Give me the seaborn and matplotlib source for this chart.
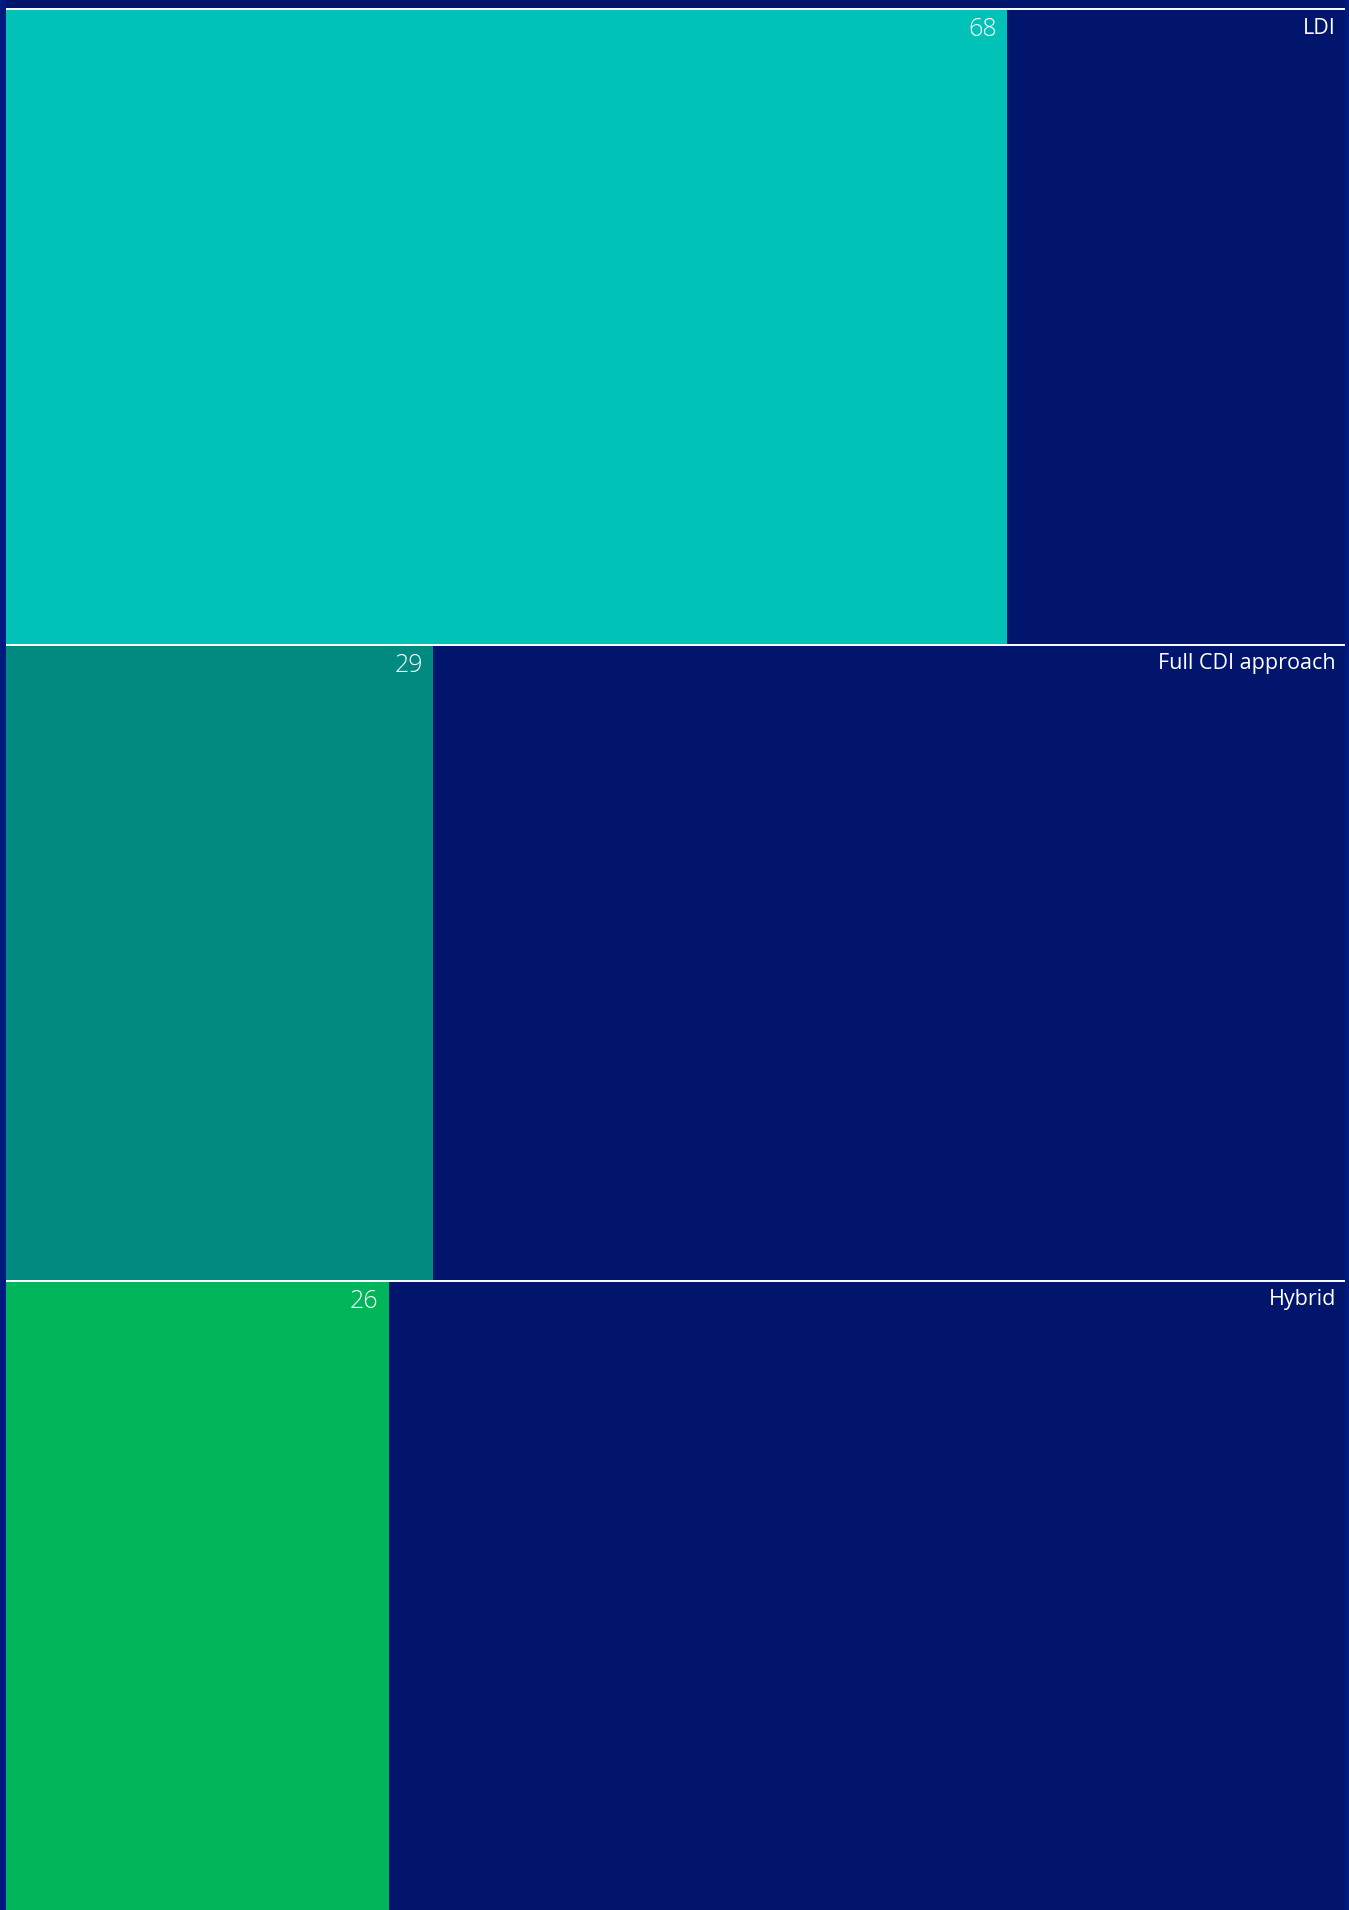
import matplotlib
matplotlib.use('Agg')
import matplotlib.pyplot as plt
import matplotlib.transforms as mtransforms
import pandas as pd
import seaborn as sns

# Data
categories = ['LDI', 'Full CDI approach', 'Hybrid']
values = [68, 29, 26]
bar_colors = ['#00C2B7', '#008A80', '#00B55A']

navy = '#00156B'
edge_blue = '#001A80'

df = pd.DataFrame({'approach': categories, 'share': values})

sns.set_style('white')
plt.rcParams['font.family'] = ['Open Sans', 'DejaVu Sans']

W, H = 1349, 1910
fig = plt.figure(figsize=(W / 100, H / 100), dpi=100, facecolor=edge_blue)

# axes: 6px from left, 4px from right, rows 636px tall, first line at 9.5px
row_px = 636
top_gap = 9.5
total_px = top_gap + row_px * len(categories)
ax = fig.add_axes([6 / W, 1 - total_px / H, (W - 10) / W, total_px / H])
ax.set_facecolor(navy)

sns.barplot(data=df, x='share', y='approach', hue='approach', palette=bar_colors,
            orient='h', width=1.0, saturation=1, legend=False, ax=ax)
for p in ax.patches:
    p.set_edgecolor('none')

ax.set_xlim(0, 91)
ax.set_ylim(len(categories) - 0.5, -0.5 - top_gap / row_px)

# white separator lines at the top of each row
for i in range(len(categories)):
    ax.axhline(i - 0.5, color='white', lw=1.4, zorder=5)

trans = mtransforms.blended_transform_factory(ax.transAxes, ax.transData)
for i, (cat, val) in enumerate(zip(categories, values)):
    ax.annotate(str(val), xy=(val, i - 0.5), xytext=(-10, -8),
                textcoords='offset pixels', ha='right', va='top',
                color='white', fontsize=18, fontweight='light', zorder=6)
    ax.annotate(cat, xy=(1, i - 0.5), xycoords=trans, xytext=(-9, -8),
                textcoords='offset pixels', ha='right', va='top',
                color='white', fontsize=15.5, zorder=6)

ax.set_xlabel('')
ax.set_ylabel('')
ax.set_xticks([])
ax.set_yticks([])
for s in ax.spines.values():
    s.set_visible(False)

fig.savefig('out.png', dpi=100, facecolor=edge_blue)
